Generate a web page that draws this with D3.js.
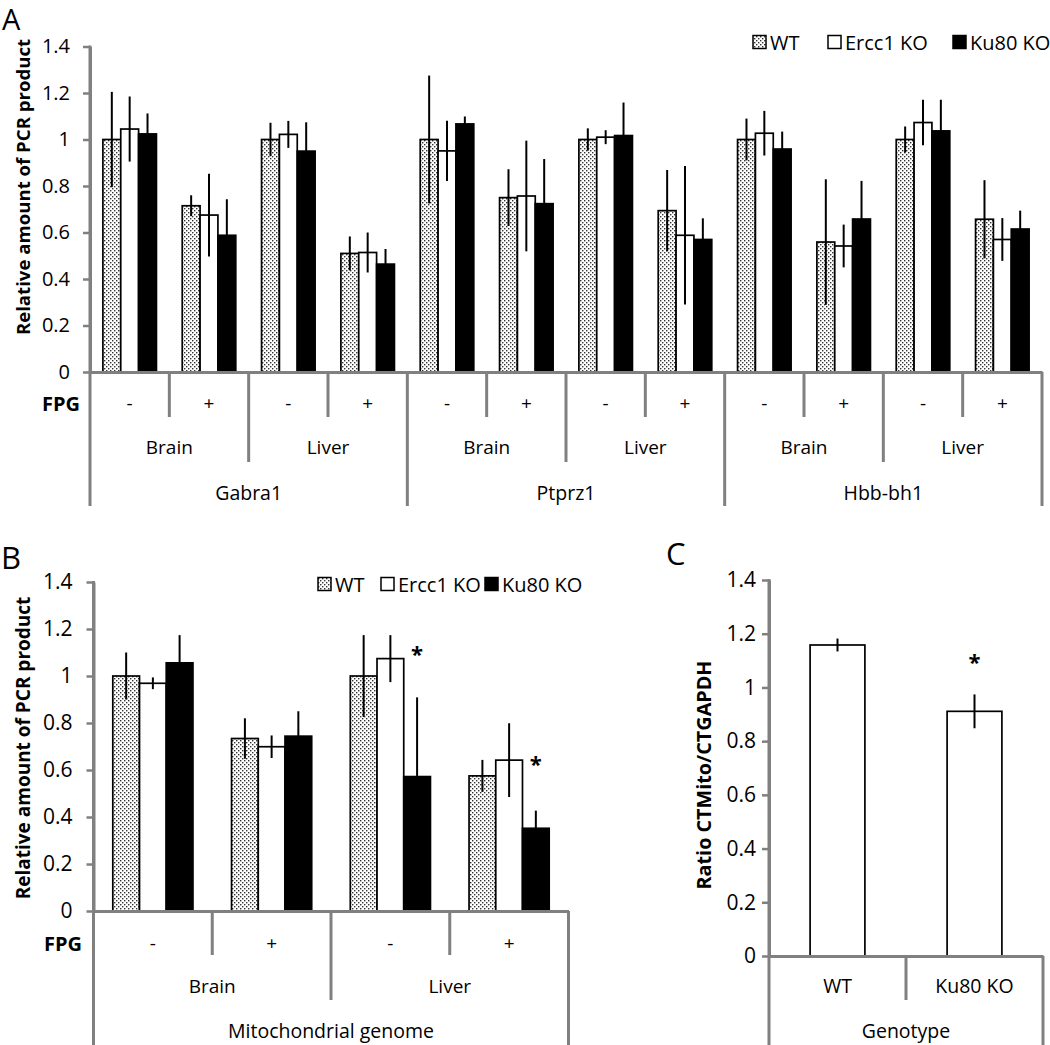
<!DOCTYPE html>
<html><head><meta charset="utf-8">
<script src="https://cdn.jsdelivr.net/npm/d3@7"></script>
<style>
body{margin:0;background:#fff}
svg{display:block}
text{font-family:'Open Sans',sans-serif;fill:#000}
</style>
</head><body><svg id="chart" width="1050" height="1045"></svg>
<script>
// ---------- DATA ----------
const seriesNames = ["WT", "Ercc1 KO", "Ku80 KO"];
const yTickValues = [0, 0.2, 0.4, 0.6, 0.8, 1, 1.2, 1.4];
const yTickLabels = ["0", "0.2", "0.4", "0.6", "0.8", "1", "1.2", "1.4"];

// Panel A
const genesA = ["Gabra1", "Ptprz1", "Hbb-bh1"];
const tissuesA = ["Brain", "Liver"];
const fpgA = ["-", "+"];
const wtA      = [1.00, 0.715, 1.00, 0.510, 1.00, 0.750, 1.00, 0.694, 1.00, 0.559, 1.00, 0.657];
const wtAErr   = [0.205, 0.045, 0.072, 0.073, 0.275, 0.122, 0.048, 0.175, 0.090, 0.270, 0.056, 0.168];
const ercc1A   = [1.045, 0.675, 1.022, 0.514, 0.951, 0.757, 1.010, 0.588, 1.027, 0.542, 1.073, 0.570];
const ercc1AErr= [0.140, 0.178, 0.058, 0.086, 0.130, 0.238, 0.030, 0.298, 0.096, 0.092, 0.098, 0.092];
const ku80A    = [1.024, 0.588, 0.950, 0.464, 1.067, 0.724, 1.017, 0.570, 0.959, 0.658, 1.037, 0.615];
const ku80AErr = [0.088, 0.155, 0.124, 0.065, 0.032, 0.192, 0.142, 0.091, 0.075, 0.164, 0.134, 0.079];

// Panel B
const genesB = ["Mitochondrial genome"];
const tissuesB = ["Brain", "Liver"];
const fpgB = ["-", "+"];
const wtB      = [1.00, 0.734, 1.00, 0.575];
const wtBErr   = [0.100, 0.086, 0.174, 0.068];
const ercc1B   = [0.969, 0.699, 1.074, 0.642];
const ercc1BErr= [0.025, 0.048, 0.100, 0.157];
const ku80B    = [1.056, 0.744, 0.572, 0.352];
const ku80BErr = [0.118, 0.106, 0.337, 0.075];
const starCatsB = [2, 3];          // significance markers on Ku80 KO
const starValsB = [1.10, 0.63];

// Panel C
const genotypesC = ["WT", "Ku80 KO"];
const groupC = ["Genotype"];
const ratioC = [1.158, 0.911];
const ratioCErr = [0.024, 0.063];
const starCatsC = [1];
const starValsC = [1.10];

// ---------- DRAWING ----------
const svg = d3.select("#chart");
svg.append("rect").attr("width",1050).attr("height",1045).attr("fill","#fff");
const defs = svg.append("defs");
const pat = defs.append("pattern").attr("id","dots").attr("patternUnits","userSpaceOnUse")
  .attr("width",4).attr("height",4);
pat.append("rect").attr("width",4).attr("height",4).attr("fill","#fff");
pat.append("rect").attr("x",0).attr("y",0).attr("width",1.4).attr("height",1.4).attr("fill","#333");
pat.append("rect").attr("x",2).attr("y",2).attr("width",1.4).attr("height",1.4).attr("fill","#333");

const fills = ["url(#dots)", "#fff", "#000"];
const GRAY = "#808080";

function drawPanel(p) {
  const g = svg.append("g");
  const n = p.nCats;
  const x = d3.scaleBand().domain(d3.range(n)).range([p.x0, p.x1]).padding(0);
  const bw = x.bandwidth();
  const inner = d3.scaleBand().domain(p.series).range([bw*p.gap, bw*(1-p.gap)]).padding(0);
  const y = d3.scaleLinear().domain([0, 1.4]).range([p.y0, p.y14]);

  // bars
  p.series.forEach((s, si) => {
    g.append("g").selectAll("rect").data(p.values[si]).join("rect")
      .attr("x", (d,i) => x(i) + inner(s))
      .attr("y", d => y(d))
      .attr("width", inner.bandwidth())
      .attr("height", d => y(0) - y(d))
      .attr("fill", p.fills[si]).attr("stroke", "#000").attr("stroke-width", 1.7);
  });
  // error bars
  p.series.forEach((s, si) => {
    g.append("g").selectAll("line").data(p.values[si]).join("line")
      .attr("x1", (d,i) => x(i) + inner(s) + inner.bandwidth()/2)
      .attr("x2", (d,i) => x(i) + inner(s) + inner.bandwidth()/2)
      .attr("y1", (d,i) => y(d - p.errors[si][i]))
      .attr("y2", (d,i) => y(d + p.errors[si][i]))
      .attr("stroke", "#000").attr("stroke-width", 2);
  });
  // stars
  if (p.stars) {
    g.append("g").selectAll("text").data(p.stars.cats).join("text")
      .attr("x", (c) => x(c) + inner(p.stars.series) + inner.bandwidth()/2)
      .attr("y", (c,i) => y(p.stars.vals[i]))
      .attr("text-anchor","middle").attr("dominant-baseline","central")
      .attr("font-size", 22).attr("font-weight","bold")
      .text("*");
  }

  // y axis
  const ya = g.append("g").attr("transform", `translate(${p.x0},0)`)
    .call(d3.axisLeft(y).tickValues(yTickValues).tickFormat((d,i) => yTickLabels[i])
      .tickSize(7).tickSizeOuter(0).tickPadding(p.tickPad));
  ya.select(".domain").attr("stroke", GRAY).attr("stroke-width", 3);
  ya.selectAll(".tick line").attr("stroke", GRAY).attr("stroke-width", 2.5);
  ya.selectAll(".tick text").attr("font-size", p.tickFont).attr("font-family","'Open Sans',sans-serif").attr("fill","#000");

  // x axis line
  const xa = g.append("g").attr("transform", `translate(0,${p.y0})`)
    .call(d3.axisBottom(x).tickSize(0).tickSizeOuter(0).tickFormat(""));
  xa.select(".domain").attr("stroke", GRAY).attr("stroke-width", 3);
  xa.selectAll(".tick").remove();

  // outer vertical edges of category table
  g.append("g").selectAll("line").data([p.x0, p.x1]).join("line")
    .attr("x1", d => d).attr("x2", d => d).attr("y1", p.y14 - 1).attr("y2", p.bottom)
    .attr("stroke", GRAY).attr("stroke-width", 3)
    .filter((d,i) => i === 1).attr("y1", p.y0);

  // boundaries
  const bounds = [];
  for (let b = 1; b < n; b++) {
    let end = null;
    p.levels.forEach(L => { if (L.span < n && b % L.span === 0) end = L.tickEnd; });
    bounds.push({b, end});
  }
  g.append("g").selectAll("line").data(bounds).join("line")
    .attr("x1", d => x(d.b)).attr("x2", d => x(d.b))
    .attr("y1", p.y0).attr("y2", d => d.end)
    .attr("stroke", GRAY).attr("stroke-width", 3);

  // labels per level
  p.levels.forEach(L => {
    g.append("g").selectAll("text").data(L.labels).join("text")
      .attr("x", (d,i) => x(i*L.span) + L.span*bw/2)
      .attr("y", L.labelY)
      .attr("text-anchor","middle").attr("dominant-baseline","central")
      .attr("font-size", L.size).text(d => d);
  });

  // FPG label
  if (p.fpgLabel) {
    g.append("text").attr("x", p.fpgLabel.x).attr("y", p.fpgLabel.y)
      .attr("text-anchor","end").attr("dominant-baseline","central")
      .attr("font-size", 20).attr("font-weight","bold").text("FPG");
  }
  // y title
  g.append("text").attr("transform", `translate(${p.yTitle.x},${p.yTitle.y}) rotate(-90)`)
    .attr("text-anchor","middle").attr("dominant-baseline","central")
    .attr("font-size", p.yTitle.size).attr("font-weight","bold").text(p.yTitle.text);
  // panel letter
  g.append("text").attr("x", p.letter.x).attr("y", p.letter.y)
    .attr("font-size", p.letter.size).text(p.letter.text);

  // legend
  if (p.legend) {
    const lg = g.append("g");
    p.series.forEach((s, si) => {
      const lx = p.legend.xs[si];
      lg.append("rect").attr("x", lx).attr("y", p.legend.y - 6.5).attr("width", 13).attr("height", 13)
        .attr("fill", p.fills[si]).attr("stroke", "#000").attr("stroke-width", 1.5);
      lg.append("text").attr("x", lx + 17).attr("y", p.legend.y)
        .attr("dominant-baseline","central").attr("font-size", 20).text(s);
    });
  }
}

function repeatLabels(arr, times) { return d3.range(times).flatMap(() => arr); }

drawPanel({
  nCats: genesA.length * tissuesA.length * fpgA.length,
  x0: 90, x1: 1042, y0: 372, y14: 46.5, bottom: 506, gap: 0.1625,
  series: seriesNames, fills,
  values: [wtA, ercc1A, ku80A], errors: [wtAErr, ercc1AErr, ku80AErr],
  tickFont: 20, tickPad: 13,
  levels: [
    {span: 1, labels: repeatLabels(fpgA, genesA.length*tissuesA.length), tickEnd: 417, labelY: 403, size: 19},
    {span: 2, labels: repeatLabels(tissuesA, genesA.length), tickEnd: 462, labelY: 447, size: 19},
    {span: 4, labels: genesA, tickEnd: 506, labelY: 492, size: 19.5}
  ],
  fpgLabel: {x: 80, y: 403},
  yTitle: {x: 22, y: 187, size: 18.6, text: "Relative amount of PCR product"},
  letter: {x: 2, y: 30, size: 29, text: "A"},
  legend: {xs: [753, 828, 953], y: 42}
});

drawPanel({
  nCats: genesB.length * tissuesB.length * fpgB.length,
  x0: 93.5, x1: 568.5, y0: 911, y14: 582, bottom: 1045, gap: 0.1625,
  series: seriesNames, fills,
  values: [wtB, ercc1B, ku80B], errors: [wtBErr, ercc1BErr, ku80BErr],
  tickFont: 21, tickPad: 14,
  stars: {series: "Ku80 KO", cats: starCatsB, vals: starValsB},
  levels: [
    {span: 1, labels: repeatLabels(fpgB, tissuesB.length), tickEnd: 955, labelY: 943, size: 19},
    {span: 2, labels: tissuesB, tickEnd: 1000, labelY: 986, size: 19},
    {span: 4, labels: genesB, tickEnd: 1045, labelY: 1030, size: 19.5}
  ],
  fpgLabel: {x: 82, y: 943},
  yTitle: {x: 23, y: 748, size: 19, text: "Relative amount of PCR product"},
  letter: {x: 1, y: 569, size: 31, text: "B"},
  legend: {xs: [318, 381, 485], y: 584}
});

drawPanel({
  nCats: genotypesC.length,
  x0: 769, x1: 1043, y0: 956, y14: 580, bottom: 1045, gap: 0.3,
  series: ["Ratio"], fills: ["#fff"],
  values: [ratioC], errors: [ratioCErr],
  tickFont: 21, tickPad: 6,
  stars: {series: "Ratio", cats: starCatsC, vals: starValsC},
  levels: [
    {span: 1, labels: genotypesC, tickEnd: 1000, labelY: 985, size: 19.5},
    {span: 2, labels: groupC, tickEnd: 1045, labelY: 1030, size: 19.5}
  ],
  yTitle: {x: 703, y: 775, size: 19.8, text: "Ratio CTMito/CTGAPDH"},
  letter: {x: 666, y: 565, size: 31, text: "C"}
});
</script>
</body></html>
